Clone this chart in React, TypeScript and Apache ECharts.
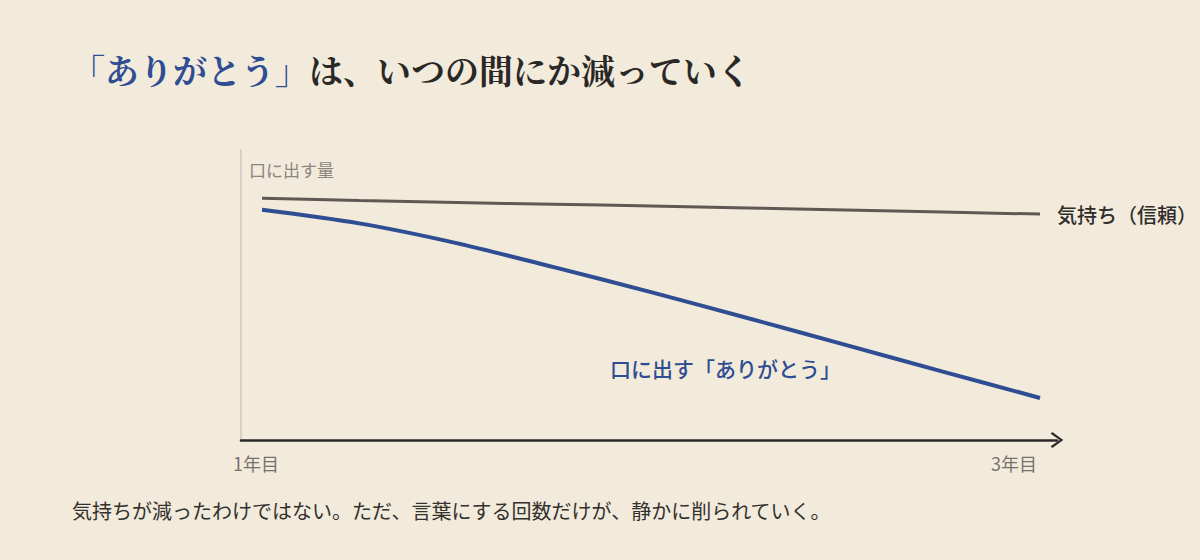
import React, { useEffect, useRef } from "react";
import * as echarts from "echarts";

const titleHighlight = "「ありがとう」";
const titleRest = "は、いつの間にか減っていく";
const yAxisName = "口に出す量";
const xLabelValues = [1, 3];
const xLabels = ["1年目", "3年目"];
const xs = [1, 1.25, 1.5, 1.75, 2, 2.25, 2.5, 2.75, 3];
const feelingName = "気持ち（信頼）";
const feelingValues = [83.4, 82.6, 81.9, 81.3, 80.7, 80.0, 79.3, 78.6, 77.9];
const thanksName = "口に出す「ありがとう」";
const thanksValues = [79.4, 74.7, 67.9, 59.6, 51.0, 42.0, 32.8, 23.6, 14.5];
const caption = "気持ちが減ったわけではない。ただ、言葉にする回数だけが、静かに削られていく。";

const BG = "#f2eadb";
const BLUE = "#2e4d92";
const GREY = "#5e5954";
const SANS = "'Noto Sans CJK JP', 'Noto Sans', sans-serif";
const SERIF = "'Noto Serif CJK JP', 'Noto Serif JP', serif";

export default function App() {
  const ref = useRef<HTMLDivElement>(null);
  useEffect(() => {
    if (!ref.current) return;
    const chart = echarts.init(ref.current, undefined, { renderer: "svg" });
    const pair = (vals: number[]) => xs.map((x, i) => [x, vals[i]]);
    chart.setOption({
      animation: false,
      backgroundColor: BG,
      textStyle: { fontFamily: SANS },
      title: {
        left: 66,
        top: 47,
        text: `{b|${titleHighlight}}{d|${titleRest}}`,
        textStyle: {
          rich: {
            b: { fontFamily: SERIF, fontSize: 34, fontWeight: "bold", color: BLUE },
            d: { fontFamily: SERIF, fontSize: 34, fontWeight: "bold", color: "#2a2826" },
          },
        },
      },
      grid: { left: 241, right: 143, top: 150, bottom: 120 },
      xAxis: {
        type: "value",
        min: 0.946,
        max: 3.0437,
        splitLine: { show: false },
        axisTick: { show: false },
        axisLine: {
          lineStyle: { color: "#2b2a28", width: 2.5 },
          symbol: ["none", "path://M0,11 L8,0 L16,11 L14.2,12.6 L8,3.6 L1.8,12.6 Z"],
          symbolSize: [16, 13],
        },
        axisLabel: {
          customValues: xLabelValues,
          margin: 14,
          formatter: (v: number) => {
            const i = xLabelValues.indexOf(v);
            return i === 0 ? `{a|${xLabels[i]}}` : `{c|${xLabels[i]}}`;
          },
          rich: {
            a: { fontSize: 18, color: "#76716b", fontFamily: SANS, padding: [0, 12, 0, 0] },
            c: { fontSize: 18, color: "#76716b", fontFamily: SANS, padding: [0, 52, 0, 0] },
          },
        },
      },
      yAxis: {
        type: "value",
        min: 0,
        max: 100,
        name: yAxisName,
        nameLocation: "end",
        nameGap: -19,
        nameTextStyle: {
          align: "left",
          verticalAlign: "middle",
          fontSize: 17,
          color: "#8a857e",
          padding: [0, 0, 0, 8],
          fontFamily: SANS,
        },
        splitLine: { show: false },
        axisTick: { show: false },
        axisLabel: { show: false },
        axisLine: { show: true, lineStyle: { color: "#d8d0c3", width: 2 } },
      },
      series: [
        {
          name: feelingName,
          type: "line",
          data: pair(feelingValues),
          showSymbol: false,
          smooth: 0.3,
          lineStyle: { color: GREY, width: 3 },
          endLabel: {
            show: true,
            formatter: feelingName,
            distance: 17,
            fontSize: 20,
            fontWeight: 500,
            color: "#2f2d2b",
            fontFamily: SANS,
          },
        },
        {
          name: thanksName,
          type: "line",
          data: pair(thanksValues),
          showSymbol: false,
          smooth: 0.3,
          lineStyle: { color: BLUE, width: 4 },
        },
      ],
      graphic: [
        {
          type: "text",
          left: 610,
          top: 357,
          style: {
            text: thanksName,
            fontSize: 21,
            fontWeight: 500,
            fill: BLUE,
            fontFamily: SANS,
          },
        },
        {
          type: "text",
          left: 72,
          top: 500,
          style: {
            text: caption,
            fontSize: 20,
            fill: "#33312e",
            fontFamily: SANS,
          },
        },
      ],
    });
    return () => chart.dispose();
  }, []);
  return (
    <div
      ref={ref}
      style={{ position: "fixed", left: 0, top: 0, width: 1200, height: 560 }}
    />
  );
}
